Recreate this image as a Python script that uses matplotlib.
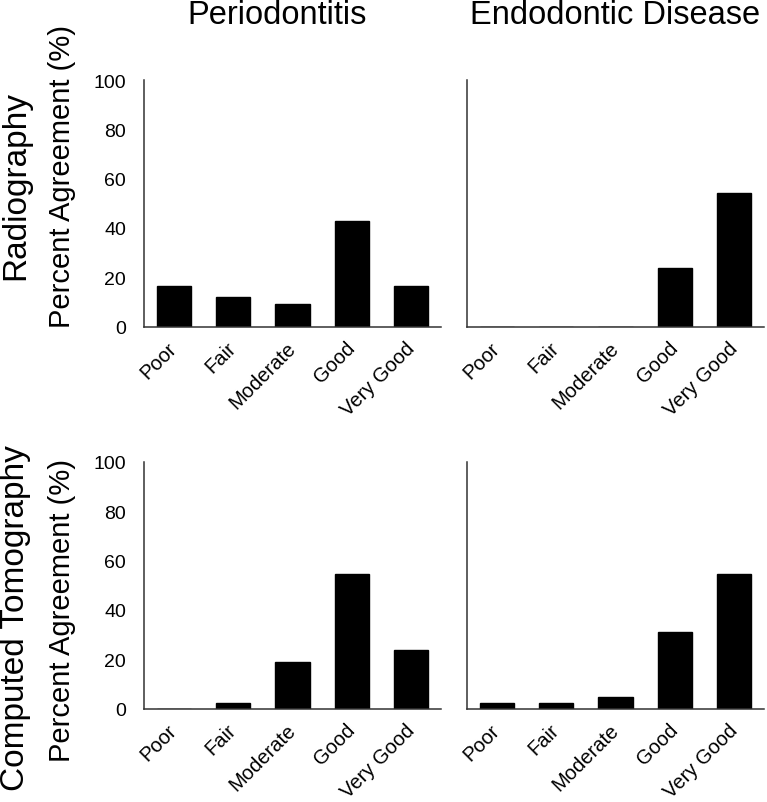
"""
Percent agreement by rating category, radiography vs CT,
for periodontitis and endodontic disease.
"""

import matplotlib

matplotlib.use("Agg")
import matplotlib.pyplot as plt

plt.rcParams["font.family"] = ["Liberation Sans", "DejaVu Sans"]

categories = ["Poor", "Fair", "Moderate", "Good", "Very Good"]

# percent agreement per category
radio_perio = [16.3, 11.8, 9.3, 42.7, 16.3]
radio_endo = [0, 0, 0, 23.6, 54.3]
ct_perio = [0, 2.4, 19.0, 54.5, 23.8]
ct_endo = [2.4, 2.4, 4.8, 31.0, 54.5]

col_titles = ["Periodontitis", "Endodontic Disease"]
row_titles = ["Radiography", "Computed Tomography"]

W, H = 767, 803
fig = plt.figure(figsize=(W / 100, H / 100), dpi=100)

# axes boxes in pixels
lefts = [144, 467]
widths = 297
tops = [81, 463]
heights = 246.5

panels = [[radio_perio, radio_endo], [ct_perio, ct_endo]]

for r in range(2):
    for c in range(2):
        ax = fig.add_axes(
            [
                lefts[c] / W,
                1 - (tops[r] + heights) / H,
                widths / W,
                heights / H,
            ]
        )
        x = range(len(categories))
        ax.bar(x, panels[r][c], width=0.575, color="black", edgecolor="black")
        ax.set_xlim(-0.5, 4.5)
        ax.set_ylim(0, 100)
        ax.set_xticks(list(x))
        ax.set_xticklabels(
            categories,
            rotation=45,
            ha="right",
            va="center",
            rotation_mode="anchor",
            fontsize=14.5,
        )
        ax.set_yticks([0, 20, 40, 60, 80, 100])
        if c == 0:
            ax.set_yticklabels(["0", "20", "40", "60", "80", "100"], fontsize=14)
        else:
            ax.set_yticklabels([])
        ax.tick_params(axis="both", length=0)
        ax.tick_params(axis="x", pad=13)
        ax.tick_params(axis="y", pad=13)
        for s in ["top", "right"]:
            ax.spines[s].set_visible(False)
        for s in ["left", "bottom"]:
            ax.spines[s].set_color("#333333")
            ax.spines[s].set_linewidth(1.1)

# column titles
fig.text(277 / W, 1 - 15 / H, col_titles[0], ha="center", va="center", fontsize=23.5)
fig.text(615 / W, 1 - 15 / H, col_titles[1], ha="center", va="center", fontsize=23.5)

# row labels
row_y = [186, 618]
pa_y = [176, 611]
for r in range(2):
    fig.text(
        16 / W, 1 - row_y[r] / H, row_titles[r],
        rotation=90, ha="center", va="center", fontsize=24,
    )
    fig.text(
        62 / W, 1 - pa_y[r] / H, "Percent Agreement (%)",
        rotation=90, ha="center", va="center", fontsize=21,
    )

plt.savefig("out.png", dpi=100)
plt.close()
